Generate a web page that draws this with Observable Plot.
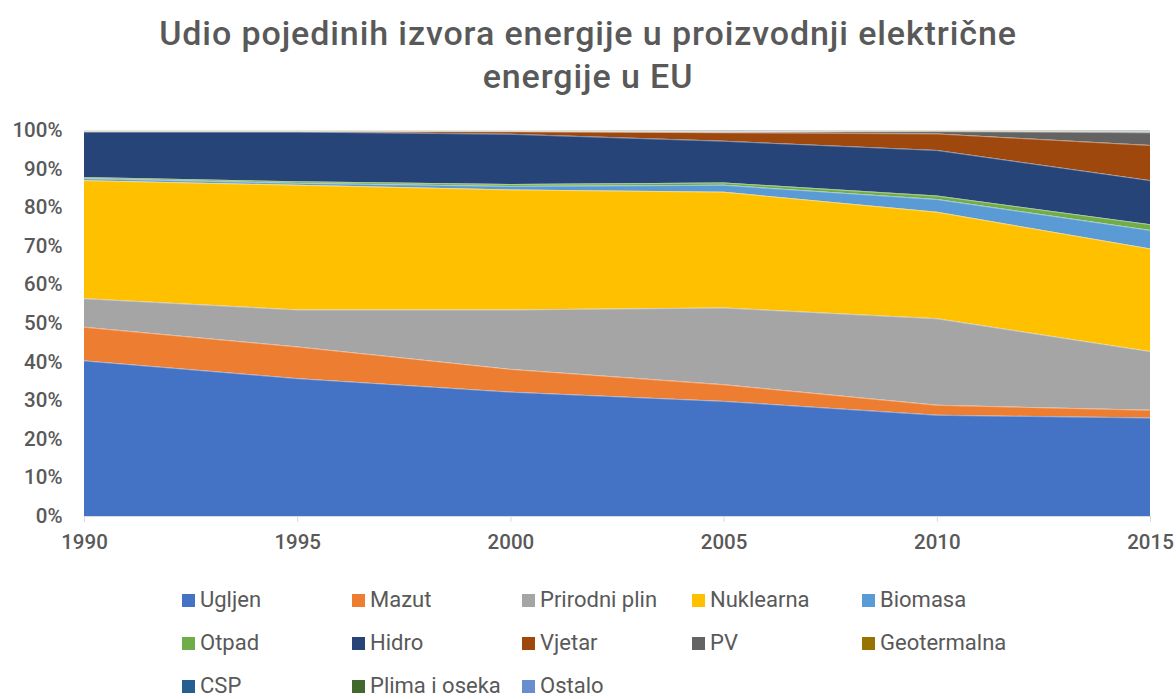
<!DOCTYPE html>
<html>
<head>
<meta charset="utf-8">
<script src="https://cdn.jsdelivr.net/npm/d3@7"></script>
<script src="https://cdn.jsdelivr.net/npm/@observablehq/plot@0.6"></script>
<style>
  html, body { margin: 0; padding: 0; background: #fff; }
  body { width: 1176px; height: 699px; overflow: hidden; font-family: Roboto, "DejaVu Sans", sans-serif; color: #595959; }
  #title { text-align: center; font-size: 34px; font-weight: 500; line-height: 43px; padding-top: 12px; height: 98px; box-sizing: border-box; color: #595959; letter-spacing: 0.9px; }
  #chart { height: 470px; }
  #chart svg { display: block; }
  #legend { position: relative; height: 131px; }
  .item { position: absolute; display: flex; align-items: center; font-size: 22px; color: #595959; white-space: nowrap; line-height: 22px; height: 22px; }
  .sw { width: 13px; height: 13px; margin-right: 5px; flex: none; }
</style>
</head>
<body>
<div id="title">Udio pojedinih izvora energije u proizvodnji električne<br>energije u EU</div>
<div id="chart"></div>
<div id="legend"></div>
<script>
const years = [1990, 1995, 2000, 2005, 2010, 2015];
const seriesNames = ["Ugljen", "Mazut", "Prirodni plin", "Nuklearna", "Biomasa", "Otpad", "Hidro", "Vjetar", "PV", "Geotermalna", "CSP", "Plima i oseka", "Ostalo"];
const ugljen      = [40.3, 35.7, 32.2, 29.8, 26.2, 25.5];
const mazut       = [8.7, 8.2, 5.9, 4.3, 2.6, 2.0];
const prirodniPlin= [7.4, 9.6, 15.4, 19.9, 22.4, 15.2];
const nuklearna   = [30.6, 32.3, 31.1, 30.0, 27.6, 26.6];
const biomasa     = [0.5, 0.5, 0.9, 1.8, 3.3, 4.8];
const otpad       = [0.3, 0.4, 0.5, 0.6, 0.9, 1.5];
const hidro       = [11.8, 12.9, 13.0, 10.8, 11.8, 11.4];
const vjetar      = [0.1, 0.1, 0.7, 2.2, 4.3, 9.1];
const pv          = [0.0, 0.0, 0.0, 0.1, 0.6, 3.3];
const geotermalna = [0.2, 0.2, 0.2, 0.2, 0.2, 0.2];
const csp         = [0.0, 0.0, 0.0, 0.0, 0.0, 0.1];
const plima       = [0.1, 0.1, 0.1, 0.1, 0.1, 0.1];
const ostalo      = [0.0, 0.0, 0.0, 0.2, 0.0, 0.2];
const seriesValues = [ugljen, mazut, prirodniPlin, nuklearna, biomasa, otpad, hidro, vjetar, pv, geotermalna, csp, plima, ostalo];
const palette = ["#4472C4", "#ED7D31", "#A5A5A5", "#FFC000", "#5B9BD5", "#70AD47", "#264478", "#9E480E", "#636363", "#997300", "#255E91", "#43682B", "#698ED0"];
const yTicks = [0, 10, 20, 30, 40, 50, 60, 70, 80, 90, 100];
const xTicks = [1990, 1995, 2000, 2005, 2010, 2015];

const rows = [];
seriesNames.forEach((s, i) => years.forEach((y, j) => rows.push({source: s, year: y, value: seriesValues[i][j]})));

const chart = Plot.plot({
  width: 1176,
  height: 470,
  marginLeft: 84,
  marginRight: 26,
  marginTop: 32,
  marginBottom: 52,
  style: {fontFamily: "Roboto, 'DejaVu Sans', sans-serif", fontSize: "20px", color: "#595959", background: "#fff", overflow: "visible"},
  x: {domain: [1990, 2015], label: null},
  y: {domain: [0, 100], label: null},
  color: {domain: seriesNames, range: palette},
  marks: [
    Plot.areaY(rows, Plot.stackY({x: "year", y: "value", z: "source", fill: "source", order: seriesNames})),
    Plot.lineY(rows, Plot.stackY2({x: "year", y: "value", z: "source", order: seriesNames, stroke: "#ffffff", strokeOpacity: 0.5, strokeWidth: 0.8})),
    Plot.ruleY([0], {stroke: "#d9d9d9", strokeWidth: 1.2}),
    Plot.axisX({ticks: xTicks, tickFormat: d => String(d), stroke: "#d9d9d9", tickSize: 6, tickPadding: 12, fill: "#595959", fontSize: 20.5, fontWeight: 500, label: null}),
    Plot.axisY({ticks: yTicks, tickFormat: d => Math.round(d) + "%", tickSize: 0, tickPadding: 22, fill: "#595959", fontSize: 20.5, fontWeight: 500, label: null})
  ]
});
document.getElementById("chart").appendChild(chart);

const legend = document.getElementById("legend");
const legendCols = 5;
seriesNames.forEach((s, i) => {
  const item = document.createElement("div");
  item.className = "item";
  item.style.left = (182 + (i % legendCols) * 170) + "px";
  item.style.top = (21 + Math.floor(i / legendCols) * 43) + "px";
  const sw = document.createElement("span");
  sw.className = "sw";
  sw.style.background = palette[i];
  item.appendChild(sw);
  item.appendChild(document.createTextNode(s));
  legend.appendChild(item);
});
</script>
</body>
</html>
